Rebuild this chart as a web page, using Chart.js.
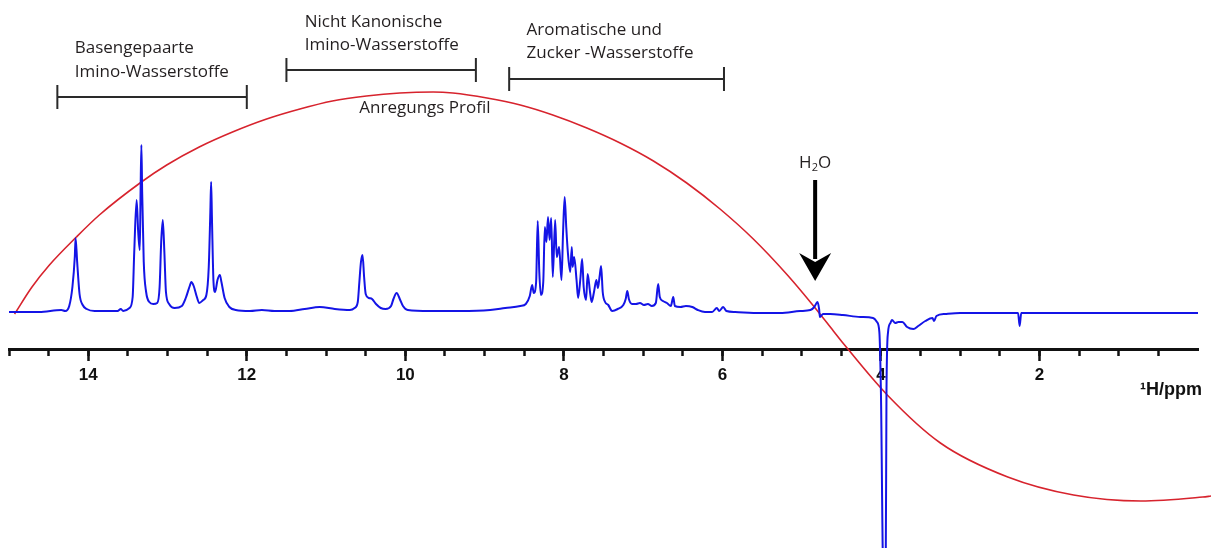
<!DOCTYPE html>
<html>
<head>
<meta charset="utf-8">
<script src="https://cdn.jsdelivr.net/npm/chart.js@4/dist/chart.umd.min.js"></script>
<style>
  html, body { margin: 0; padding: 0; background: #fff; }
  #wrap { width: 1211px; height: 548px; position: relative; }
</style>
</head>
<body>
<div id="wrap"><canvas id="nmrChart"></canvas></div>
<script>
// 1H spectrum (chemical shift in ppm, intensity in arbitrary units, baseline = 0)
const shiftPpm = [
    15.00, 14.62, 14.34, 14.29, 14.24, 14.20, 14.17, 14.16, 14.14, 14.11, 14.07, 14.02, 13.92,
    13.63, 13.59, 13.56, 13.48, 13.44, 13.42, 13.39, 13.37, 13.35, 13.34, 13.33, 13.32, 13.30,
    13.27, 13.23, 13.18, 13.13, 13.10, 13.08, 13.06, 13.04, 13.02, 12.98, 12.91, 12.82, 12.77,
    12.72, 12.70, 12.67, 12.63, 12.60, 12.55, 12.51, 12.48, 12.46, 12.45, 12.44, 12.42, 12.40,
    12.37, 12.34, 12.32, 12.28, 12.22, 12.14, 11.96, 11.81, 11.65, 11.46, 11.27, 11.08, 10.89,
    10.70, 10.64, 10.60, 10.58, 10.56, 10.54, 10.52, 10.50, 10.46, 10.42, 10.37, 10.31, 10.25,
    10.18, 10.15, 10.11, 10.07, 10.03, 9.97, 9.69, 9.31, 8.93, 8.74, 8.55, 8.48, 8.43, 8.40,
    8.38, 8.35, 8.33, 8.31, 8.29, 8.26, 8.24, 8.22, 8.20, 8.18, 8.16, 8.14, 8.11, 8.09, 8.06,
    8.03, 8.01, 7.99, 7.97, 7.95, 7.92, 7.90, 7.89, 7.87, 7.84, 7.82, 7.79, 7.77, 7.75, 7.72,
    7.70, 7.67, 7.65, 7.62, 7.59, 7.57, 7.55, 7.53, 7.51, 7.48, 7.44, 7.39, 7.32, 7.25, 7.22,
    7.20, 7.18, 7.14, 7.09, 7.04, 6.99, 6.94, 6.89, 6.84, 6.81, 6.79, 6.75, 6.70, 6.65, 6.62,
    6.60, 6.53, 6.46, 6.38, 6.31, 6.22, 6.13, 6.07, 6.04, 5.99, 5.95, 5.84, 5.52, 5.27, 5.02,
    4.89, 4.84, 4.80, 4.78, 4.77, 4.73, 4.64, 4.48, 4.26, 4.10, 4.05, 4.02, 4.00, 3.97, 3.94,
    3.93, 3.91, 3.88, 3.86, 3.82, 3.78, 3.73, 3.67, 3.59, 3.53, 3.44, 3.35, 3.33, 3.30, 3.19,
    3.00, 2.27, 2.25, 2.23, 1.23, 0.00
];
const intensity = [
    0, 0, 2, 1, 6, 25, 55, 74, 50, 18, 7, 3, 1,
    1, 3, 1, 4, 15, 60, 112, 80, 62, 120, 167, 120, 50,
    20, 10, 8, 9, 25, 70, 92, 60, 20, 8, 4, 6, 14,
    26, 30, 26, 15, 9, 12, 17, 45, 100, 130, 95, 30, 20,
    32, 37, 30, 14, 5, 2, 1, 2, 1, 1, 3, 5, 3,
    2, 4, 10, 30, 50, 57, 35, 18, 14, 13, 8, 4, 3,
    6, 13, 19, 13, 6, 2, 1, 1, 2, 4, 6, 8, 16, 27,
    19, 30, 91, 40, 17, 30, 85, 70, 95, 72, 94, 35, 92, 55, 65,
    32, 80, 115, 85, 60, 40, 65, 45, 55, 32, 14, 35, 53, 25, 12,
    38, 20, 10, 20, 32, 24, 35, 46, 20, 10, 7, 1, 3, 7, 13,
    21, 13, 8, 8, 9, 7, 8, 6, 9, 28, 15, 11, 9, 6, 15,
    6, 5, 6, 5, 2, 0, 0, 4, 1, 5, 1, 0, -1, -1, 1,
    2, 5, 10, 3, -5, -2, -2, -3, -5, -6, -10, -20, -80, -260, -260,
    -80, -20, -11, -8, -11, -10, -10, -15, -17, -14, -9, -6, -9, -4, -2,
    -1, -1, -14, -1, -1, -1
];

// excitation profile ("Anregungs Profil")
const profilePpm = [
    14.93, 14.71, 14.49, 14.15, 13.86, 13.33, 13.01, 12.60, 12.18, 11.75, 11.33, 10.92, 10.49,
    10.07, 9.65, 9.40, 8.97, 8.55, 8.14, 7.71, 7.29, 6.87, 6.45, 6.03, 5.61, 5.18, 4.85, 4.60,
    4.51, 3.92, 3.25, 2.40, 1.57, 0.72, -0.06, -0.17
];
const profileLevel = [
    -2, 25, 47, 75, 97, 130, 147, 165, 180, 193, 203, 211, 216,
    219, 220, 219, 214, 207, 197, 184, 169, 151, 129, 103, 73, 37, 6, -19,
    -28, -83, -131, -165, -183, -189, -185, -184
];

const majorTicks = [14, 12, 10, 8, 6, 4, 2];

const regionNames = [
    ['Basengepaarte', 'Imino-Wasserstoffe'],
    ['Nicht Kanonische', 'Imino-Wasserstoffe'],
    ['Aromatische und', 'Zucker -Wasserstoffe']
];
const regionFrom = [14.39, 11.50, 8.69];
const regionTo = [12.00, 9.11, 5.98];
const waterShift = 4.83;

// where the annotations sit (ppm / intensity units)
const layoutCfg = {
    bracketLevel: [215, 242, 233],
    textPpm: [14.17, 11.27, 8.47],
    textLevel: [[264, 240], [290, 267], [282, 259]],
    profileText: { ppm: 10.58, level: 204 },
    water: { label: 149, top: 132, tip: 31 },
    axisTitle: { ppm: -0.05, level: -78 },
    axisLevel: -38
};

const toPoints = (xs, ys) => xs.map((v, i) => ({ x: v, y: ys[i] }));

const labelPlugin = {
    id: 'nmrLabels',
    afterDatasetsDraw(chart) {
        const { ctx } = chart;
        const x = chart.scales.x, y = chart.scales.y;
        ctx.save();
        ctx.strokeStyle = '#2a2a2a';
        ctx.fillStyle = '#231f20';
        ctx.lineWidth = 2;

        regionFrom.forEach((from, i) => {
            const x1 = x.getPixelForValue(from);
            const x2 = x.getPixelForValue(regionTo[i]);
            const yy = y.getPixelForValue(layoutCfg.bracketLevel[i]);
            ctx.beginPath();
            ctx.moveTo(x1, yy); ctx.lineTo(x2, yy);
            ctx.moveTo(x1, yy - 12); ctx.lineTo(x1, yy + 12);
            ctx.moveTo(x2, yy - 12); ctx.lineTo(x2, yy + 12);
            ctx.stroke();

            ctx.font = '17px "Open Sans"';
            ctx.textAlign = 'left';
            ctx.textBaseline = 'middle';
            const tx = x.getPixelForValue(layoutCfg.textPpm[i]);
            regionNames[i].forEach((line, j) => {
                ctx.fillText(line, tx, y.getPixelForValue(layoutCfg.textLevel[i][j]));
            });
        });

        ctx.font = '17px "Open Sans"';
        ctx.textAlign = 'left';
        ctx.fillText('Anregungs Profil', x.getPixelForValue(layoutCfg.profileText.ppm),
            y.getPixelForValue(layoutCfg.profileText.level));

        // H2O label and arrow
        const wx = x.getPixelForValue(waterShift);
        const ly = y.getPixelForValue(layoutCfg.water.label);
        ctx.font = '17px "Open Sans"';
        const hw = ctx.measureText('H').width;
        ctx.font = '11px "Open Sans"';
        const sw = ctx.measureText('2').width;
        ctx.font = '17px "Open Sans"';
        const ow = ctx.measureText('O').width;
        let cx = wx - (hw + sw + ow) / 2;
        ctx.fillText('H', cx, ly);
        ctx.font = '11px "Open Sans"';
        ctx.fillText('2', cx + hw, ly + 5);
        ctx.font = '17px "Open Sans"';
        ctx.fillText('O', cx + hw + sw, ly);

        const top = y.getPixelForValue(layoutCfg.water.top);
        const tip = y.getPixelForValue(layoutCfg.water.tip);
        ctx.fillStyle = '#000';
        ctx.fillRect(wx - 2, top, 4, tip - top - 22);
        ctx.beginPath();
        ctx.moveTo(wx - 16, tip - 28);
        ctx.lineTo(wx, tip - 19);
        ctx.lineTo(wx + 16, tip - 28);
        ctx.lineTo(wx, tip);
        ctx.closePath();
        ctx.fill();

        // axis title
        ctx.fillStyle = '#111';
        ctx.font = 'bold 18px "Liberation Sans", Arial, sans-serif';
        ctx.textAlign = 'right';
        ctx.fillText('\u00b9H/ppm', x.getPixelForValue(layoutCfg.axisTitle.ppm),
            y.getPixelForValue(layoutCfg.axisTitle.level));
        ctx.restore();
    }
};

new Chart(document.getElementById('nmrChart'), {
    type: 'line',
    data: {
        datasets: [
            {
                label: 'Spektrum',
                data: toPoints(shiftPpm, intensity),
                borderColor: '#1414e6',
                borderWidth: 2,
                pointRadius: 0,
                cubicInterpolationMode: 'monotone',
                order: 1
            },
            {
                label: 'Anregungs Profil',
                data: toPoints(profilePpm, profileLevel),
                borderColor: '#d7232d',
                borderWidth: 1.6,
                pointRadius: 0,
                cubicInterpolationMode: 'monotone',
                clip: false,
                order: 2
            }
        ]
    },
    options: {
        responsive: true,
        maintainAspectRatio: false,
        animation: false,
        layout: { padding: { left: 9, right: 13, top: 0, bottom: 0 } },
        plugins: { legend: { display: false }, tooltip: { enabled: false } },
        scales: {
            x: {
                type: 'linear',
                min: 0,
                max: 15,
                reverse: true,
                position: { y: layoutCfg.axisLevel },
                afterBuildTicks: axis => { axis.ticks = majorTicks.map(v => ({ value: v })); },
                ticks: {
                    autoSkip: false,
                    maxRotation: 0,
                    padding: 5,
                    color: '#111',
                    font: { family: '"Liberation Sans", Arial, sans-serif', size: 17, weight: 'bold' }
                },
                grid: { drawOnChartArea: false, tickLength: 10, tickWidth: 2.5, tickColor: '#111' },
                border: { display: true, width: 3, color: '#111' }
            },
            x2: {
                type: 'linear',
                min: 0,
                max: 15,
                reverse: true,
                position: { y: layoutCfg.axisLevel },
                afterBuildTicks: axis => { axis.ticks = axis.ticks.filter(t => t.value > 0); },
                ticks: { stepSize: 0.5, display: false, autoSkip: false },
                grid: { drawOnChartArea: false, tickLength: 6, tickWidth: 2.5, tickColor: '#111' },
                border: { display: false }
            },
            y: { display: false, min: -236, max: 312 }
        }
    },
    plugins: [labelPlugin]
});
</script>
</body>
</html>
